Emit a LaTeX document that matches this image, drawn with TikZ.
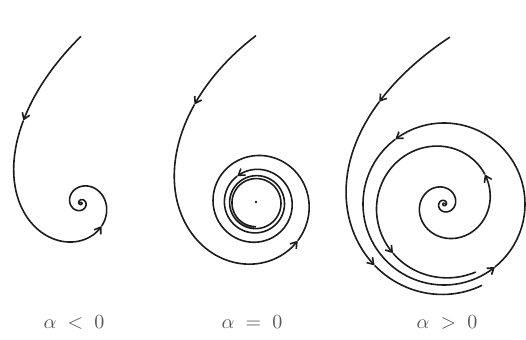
\documentclass[tikz,border=0pt]{standalone}
\usepackage{tikz}
\usetikzlibrary{arrows.meta}
\definecolor{ink}{HTML}{1C1C1C}
\definecolor{slate}{HTML}{555555}

\begin{document}
\begin{tikzpicture}[x=0.5pt, y=0.5pt,
    orbit/.style={ink, line width=0.8pt, line join=round},
    tip/.style={-{Straight Barb[length=3pt, width=4pt]}},
    lbl/.style={slate, font=\normalsize},
    declare function={
      rL(\t) = 40*exp(-0.0045*(\t-254)) + 83*exp(-min(0.03*(\t-90),12));
      rM(\t) = 22 + 38*exp(-0.00216*(\t-264)) + 90*exp(-min(0.0235*(\t-90),12));
      rIn(\t) = 81*exp(0.0043635*\t)/sqrt(exp(0.008727*\t) + 50);
      rOut(\t) = 81 + 9*exp(-0.002*(\t-270)) + 73*exp(-0.028*(\t-88));
    }]
  \useasboundingbox (0,0) rectangle (526,339);

  % alpha < 0: orbit winds into the focus
  \foreach \a/\b/\s in {90/125/20, 125/312/60}
    \draw[orbit, tip] plot[domain=\a:\b, samples=\s] ({81+rL(\x)*cos(\x)}, {136+rL(\x)*sin(\x)});
  \draw[orbit] plot[domain=312:1260, samples=320] ({81+rL(\x)*cos(\x)}, {136+rL(\x)*sin(\x)});

  % alpha = 0: slow winding, rings pile up
  \foreach \a/\b/\s in {90/122/20, 122/318/60, 318/845/160}
    \draw[orbit, tip] plot[domain=\a:\b, samples=\s] ({256+rM(\x)*cos(\x)}, {136+rM(\x)*sin(\x)});
  \draw[orbit] plot[domain=845:1710, samples=260] ({256+rM(\x)*cos(\x)}, {136+rM(\x)*sin(\x)});
  \fill[ink] (256,137) circle (1.3);

  % alpha > 0: limit cycle, approached from inside and outside
  \foreach \a/\b/\s in {-720/396/400, 396/584/60}
    \draw[orbit, tip] plot[domain=\a:\b, samples=\s] ({444+rIn(\x)*cos(\x)}, {135+rIn(\x)*sin(\x)});
  \draw[orbit] plot[domain=584:655, samples=25] ({444+rIn(\x)*cos(\x)}, {135+rIn(\x)*sin(\x)});

  \foreach \a/\b in {-51/127, 127/309}
    \draw[orbit, tip] plot[domain=\a:\b, samples=70] ({444+81*cos(\x)}, {135+81*sin(\x)});

  \foreach \a/\b/\s in {88/122.4/20, 122.4/221.5/40}
    \draw[orbit, tip] plot[domain=\a:\b, samples=\s] ({444+rOut(\x)*cos(\x)}, {135+rOut(\x)*sin(\x)});
  \draw[orbit] plot[domain=221.5:295, samples=30] ({444+rOut(\x)*cos(\x)}, {135+rOut(\x)*sin(\x)});

  % labels
  \node[lbl] (neg) at (74,17) {$\alpha\;<\;0$};
  \node[lbl] (zero) at (252,17) {$\alpha\;=\;0$};
  \node[lbl] (pos) at (447,17) {$\alpha\;>\;0$};
\end{tikzpicture}
\end{document}
